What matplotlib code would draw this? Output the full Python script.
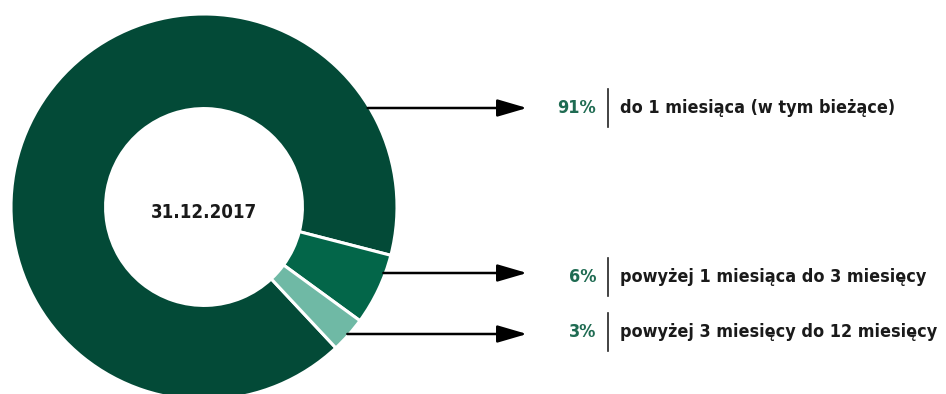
import matplotlib
matplotlib.use("Agg")
import matplotlib.pyplot as plt
import numpy as np

# data
shares = [91, 6, 3]
pct_labels = ["91%", "6%", "3%"]
descriptions = [
    "do 1 miesiąca (w tym bieżące)",
    "powyżej 1 miesiąca do 3 miesięcy",
    "powyżej 3 miesięcy do 12 miesięcy",
]
center_label = "31.12.2017"
colors = ["#034a37", "#036649", "#6fb9a5"]

W, H = 946, 394
FONT = ["DejaVu Sans"]

fig = plt.figure(figsize=(W / 100, H / 100), dpi=100)
ax = fig.add_axes([0, 0, 1, 1])

cx, cy, r = 204, H - 207, 193
ax.pie(
    shares, colors=colors, radius=r, center=(cx, cy),
    startangle=-46.9, counterclock=False,
    wedgeprops=dict(width=r * 0.49, edgecolor="white", linewidth=2.2),
)
ax.set_xlim(0, W)
ax.set_ylim(0, H)
ax.set_aspect("equal")
ax.axis("off")

ax.text(cx, H - 212, center_label, ha="center", va="center", fontsize=13.4,
        fontweight="bold", fontstretch="condensed", color="#1a1a1a", family=FONT)

arrow_y = [108, 273, 334]
label_y = [108, 277, 332]
for y, ly, pct, desc in zip(arrow_y, label_y, pct_labels, descriptions):
    yd = H - y
    x0 = cx + np.sqrt(r ** 2 - (yd - cy) ** 2)
    ax.annotate(
        "", xy=(527, yd), xytext=(x0 - 2, yd),
        arrowprops=dict(arrowstyle="-|>,head_length=1.3,head_width=0.38",
                        mutation_scale=14, lw=1.8, color="black",
                        shrinkA=0, shrinkB=0),
    )
    ld = H - ly
    ax.text(596, ld, pct, ha="right", va="center", fontsize=13,
            fontweight="bold", fontstretch="condensed", color="#1f6b52",
            family=FONT)
    ax.plot([608, 608], [ld - 19, ld + 19], color="#222222", lw=1.2)
    ax.text(620, ld, desc, ha="left", va="center", fontsize=12.9,
            fontweight="bold", fontstretch="condensed", color="#1a1a1a",
            family=FONT)

fig.savefig("out.png", dpi=100)
